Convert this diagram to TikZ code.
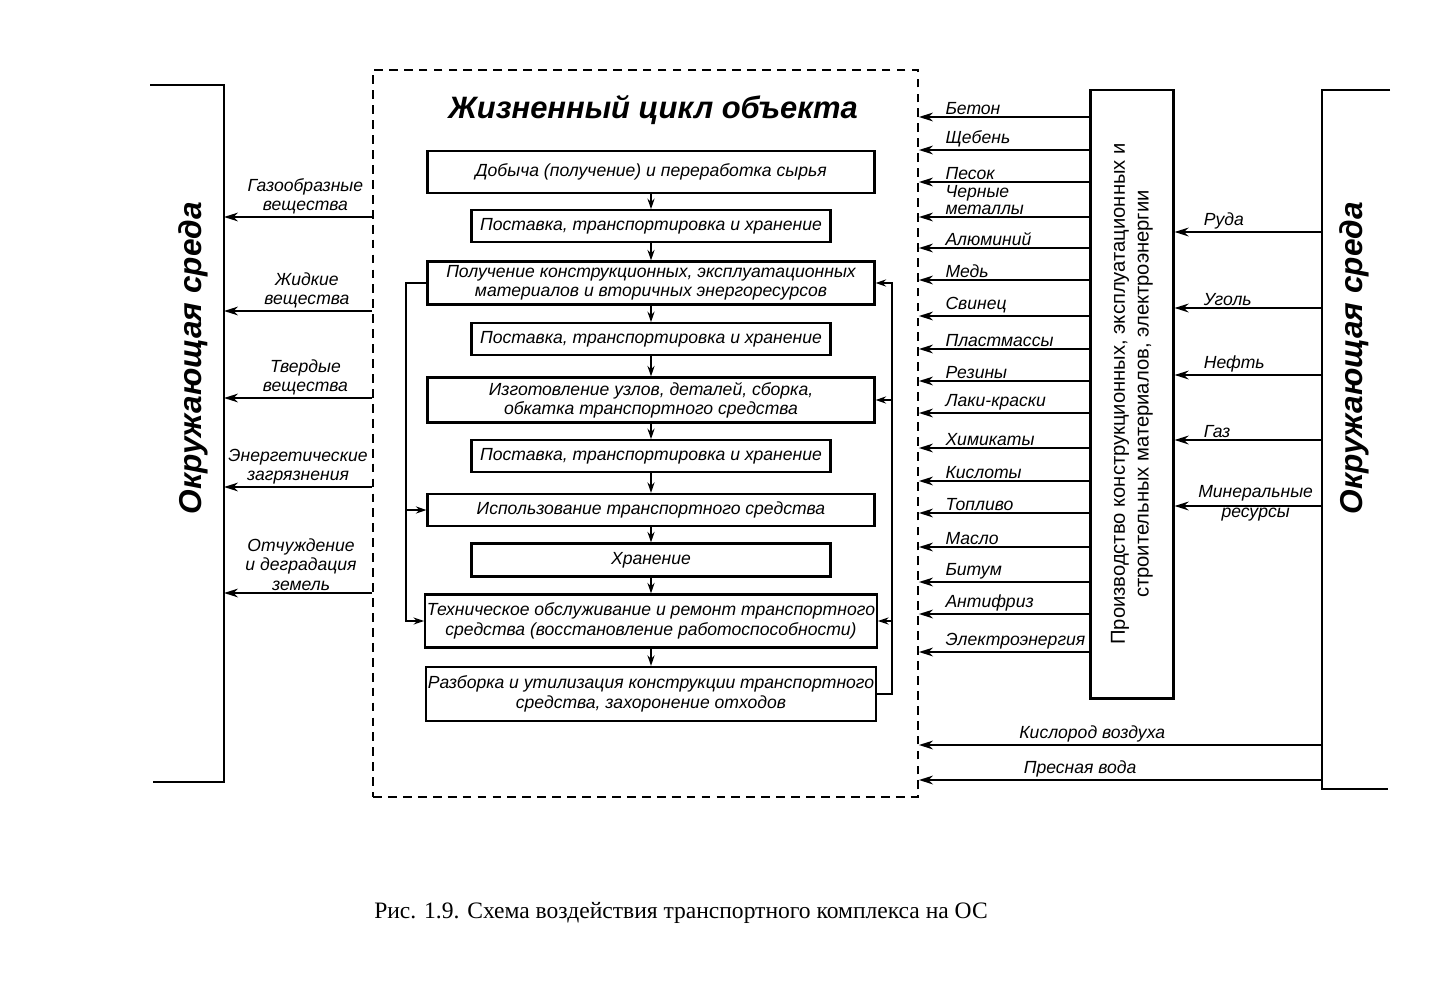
\documentclass[tikz,border=0pt]{standalone}
\usepackage{fontspec}
\setmainfont{Liberation Sans}
\newfontfamily\capfont{Liberation Serif}
\usetikzlibrary{arrows.meta,positioning}

\tikzset{
  lbl/.style={font=\fontsize{10}{11}\selectfont\itshape, inner sep=1pt, align=center},
  stage/.style={draw, line width=1.2pt, inner sep=1pt, align=center, font=\fontsize{10}{11}\selectfont\itshape},
  widestage/.style={stage, minimum width=8.94cm, minimum height=#1},
  widestage/.default=0.86cm,
  narrowstage/.style={stage, minimum width=7.18cm, minimum height=#1},
  narrowstage/.default=0.63cm,
  flow/.style={-{Stealth[length=6pt,width=4pt]}, line width=1.1pt},
  feed/.style={-{Stealth[length=8pt,width=5pt]}, line width=1.1pt},
  envtext/.style={rotate=90, font=\fontsize{18}{20}\selectfont\bfseries\itshape},
}

\begin{document}
\begin{tikzpicture}[x=0.02cm, y=-0.02cm]
    \useasboundingbox (0,0) rectangle (1429,980);

    % Environment, left
    \coordinate (envL) at (224,85);
    \draw[line width=1.1pt] (150,85) -- (envL) -- (224,782) -- (153,782);
    \node[envtext] (envLtxt) at (193,358) {Окружающая среда};

    % Environment, right
    \coordinate (envR) at (1322,90);
    \draw[line width=1.1pt] (1390,90) -- (envR) -- (1322,789) -- (1388,789);
    \node[envtext] (envRtxt) at (1354,358) {Окружающая среда};

    % Life cycle frame
    \node[draw, dash pattern=on 5pt off 3.5pt, line width=1.1pt, minimum width=10.9cm,
          minimum height=14.54cm, inner sep=0pt] (life) at (645.5,433.5) {};
    \node[font=\fontsize{17.6}{20}\selectfont\bfseries\itshape] (title) at (653,110) {Жизненный цикл объекта};

    % Stages
    \node[widestage=0.84cm] (s1) at (651,172) {Добыча (получение) и переработка сырья};
    \node[narrowstage] (s2) at (651,226) {Поставка, транспортировка и хранение};
    \node[widestage] (s3) at (651,283) {Получение конструкционных, эксплуатационных\\материалов и вторичных энергоресурсов};
    \node[narrowstage] (s4) at (651,339) {Поставка, транспортировка и хранение};
    \node[widestage=0.9cm] (s5) at (651,400) {Изготовление узлов, деталей, сборка,\\обкатка транспортного средства};
    \node[narrowstage] (s6) at (651,456) {Поставка, транспортировка и хранение};
    \node[widestage=0.64cm] (s7) at (651,510) {Использование транспортного средства};
    \node[narrowstage=0.66cm] (s8) at (651,560) {Хранение};
    \node[widestage=1.06cm] (s9) at (651,621) {Техническое обслуживание и ремонт транспортного\\средства (восстановление работоспособности)};
    \node[widestage=1.08cm] (s10) at (651,694) {Разборка и утилизация конструкции транспортного\\средства, захоронение отходов};

    \foreach \a/\b in {s1/s2, s2/s3, s3/s4, s4/s5, s5/s6, s6/s7, s7/s8, s8/s9, s9/s10}
        \draw[flow] (\a) -- (\b);

    % Loops
    \coordinate (lloop) at (406,283);
    \draw[flow] (s3.west) -- (lloop) |- (s9.west);
    \draw[flow] (lloop |- s7.west) -- (s7.west);
    \coordinate (rloop) at (892,692);
    \draw[flow] (s10.east) -- (s10.east -| rloop) |- (s3.east);
    \draw[flow] (rloop |- s5.east) -- (s5.east);
    \draw[flow] (rloop |- s9.east) -- (s9.east);

    % Outputs to the environment
    \foreach \y/\p/\txt in {217/0.45/{Газообразные\\вещества}, 311/0.44/{Жидкие\\вещества},
                            398/0.45/{Твердые\\вещества}, 487/0.5/{Энергетические\\загрязнения},
                            593/0.48/{Отчуждение\\и деградация\\земель}}
        \draw[feed] (life.west |- 0,\y) -- (envL |- 0,\y) node[lbl, pos=\p, above] {\txt};

    % Production of materials
    \node[draw, line width=1.2pt, minimum width=1.66cm, minimum height=12.18cm, inner sep=0pt,
          font=\fontsize{11.5}{13.5}\selectfont] (prod) at (1132,394)
        {\rotatebox{90}{\begin{tabular}{@{}c@{}}Производство конструкционных, эксплуатационных и\\строительных материалов, электроэнергии\end{tabular}}};

    \foreach \y/\txt in {117/Бетон, 150/Щебень, 182/Песок, 217/{Черные\\[-1.5pt]металлы}, 248/Алюминий,
                         280/Медь, 316/Свинец, 349/Пластмассы, 381/Резины, 413/Лаки-краски,
                         448/Химикаты, 481/Кислоты, 513/Топливо, 547/Масло, 582/Битум,
                         614/Антифриз, 652/Электроэнергия}
        \draw[feed] (prod.west |- 0,\y) -- (life.east |- 0,\y)
            node[lbl, pos=0.86, anchor=south west, align=left] {\txt};

    % Resources
    \foreach \y/\txt in {232/Руда, 308/Уголь, 375/Нефть, 440/Газ}
        \draw[feed] (envR |- 0,\y) -- (prod.east |- 0,\y) node[lbl, pos=0.82, anchor=south west] {\txt};
    \draw[feed] (envR |- 0,506) -- (prod.east |- 0,506) node[lbl, pos=0.45, yshift=1.5pt] {Минеральные\\ресурсы};

    \draw[feed] (envR |- 0,745) -- (life.east |- 0,745) node[lbl, pos=0.57, above] {Кислород воздуха};
    \draw[feed] (envR |- 0,780) -- (life.east |- 0,780) node[lbl, pos=0.6, above] {Пресная вода};

    % Caption
    \node[font=\capfont\fontsize{13.4}{15}\selectfont] (caption) at (681,913)
        {Рис. 1.9. Схема воздействия транспортного комплекса на ОС};
\end{tikzpicture}
\end{document}
